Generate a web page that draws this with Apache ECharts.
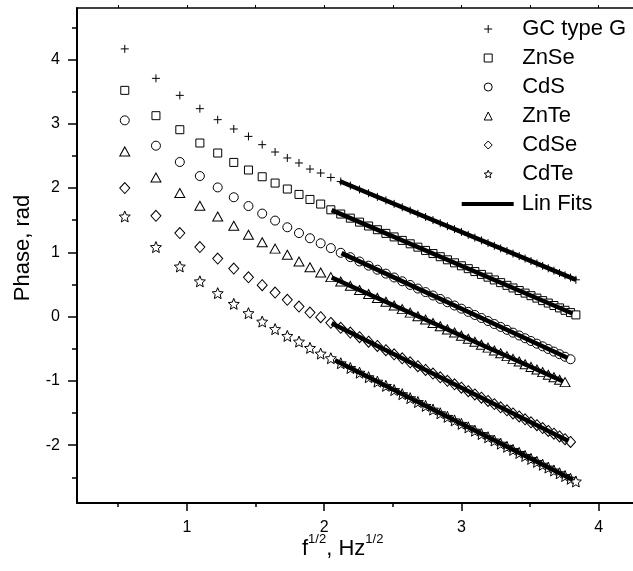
<!DOCTYPE html>
<html>
<head>
<meta charset="utf-8">
<script src="https://cdn.jsdelivr.net/npm/echarts@6/dist/echarts.min.js"></script>
<style>html,body{margin:0;padding:0;background:#fff}#c{width:633px;height:571px}</style>
</head>
<body>
<div id="c"></div>
<script>
// sqrt(f) values, Hz^1/2
const xVals = [0.548,0.775,0.949,1.095,1.225,1.342,1.449,1.549,1.643,1.732,1.817,1.897,1.975,2.049,2.121,2.191,2.258,2.324,2.388,2.450,2.510,2.569,2.627,2.683,2.739,2.793,2.846,2.898,2.950,3.000,3.050,3.098,3.146,3.194,3.240,3.286,3.332,3.376,3.421,3.464,3.507,3.550,3.592,3.633,3.674,3.715,3.755,3.795,3.834];

const yGC = [4.164,3.706,3.441,3.234,3.063,2.918,2.803,2.674,2.560,2.467,2.389,2.295,2.233,2.164,2.100,2.037,1.977,1.919,1.862,1.807,1.753,1.700,1.649,1.598,1.549,1.501,1.453,1.406,1.361,1.316,1.272,1.228,1.185,1.143,1.101,1.060,1.020,0.980,0.941,0.902,0.863,0.826,0.788,0.751,0.714,0.678,0.642,0.607,0.572];
const yZnSe = [3.519,3.125,2.907,2.700,2.544,2.398,2.280,2.175,2.077,1.984,1.900,1.822,1.750,1.661,1.595,1.531,1.469,1.409,1.351,1.294,1.239,1.185,1.132,1.080,1.029,0.980,0.931,0.883,0.836,0.790,0.745,0.700,0.656,0.613,0.570,0.528,0.486,0.445,0.405,0.365,0.325,0.287,0.248,0.210,0.172,0.135,0.098,0.062,0.026];
const yCdS = [3.052,2.658,2.404,2.186,2.009,1.856,1.719,1.602,1.493,1.389,1.299,1.218,1.140,1.065,0.992,0.924,0.857,0.792,0.729,0.668,0.608,0.549,0.492,0.436,0.381,0.328,0.275,0.223,0.172,0.123,0.073,0.025,-0.022,-0.069,-0.116,-0.161,-0.206,-0.250,-0.294,-0.337,-0.380,-0.422,-0.463,-0.504,-0.545,-0.585,-0.625,-0.664];
const yZnTe = [2.569,2.164,1.922,1.724,1.557,1.412,1.272,1.155,1.057,0.961,0.856,0.766,0.685,0.614,0.545,0.478,0.414,0.351,0.290,0.230,0.172,0.116,0.061,0.006,-0.047,-0.099,-0.150,-0.200,-0.249,-0.297,-0.345,-0.391,-0.437,-0.483,-0.527,-0.571,-0.615,-0.658,-0.700,-0.742,-0.783,-0.824,-0.864,-0.904,-0.943,-0.982,-1.020];
const yCdSe = [1.999,1.568,1.299,1.081,0.902,0.746,0.610,0.489,0.374,0.260,0.156,0.062,-0.009,-0.098,-0.175,-0.249,-0.320,-0.390,-0.457,-0.523,-0.587,-0.650,-0.711,-0.771,-0.830,-0.887,-0.944,-0.999,-1.054,-1.107,-1.160,-1.211,-1.262,-1.313,-1.362,-1.411,-1.459,-1.506,-1.553,-1.599,-1.645,-1.690,-1.735,-1.779,-1.822,-1.865,-1.908,-1.950];
const yCdTe = [1.557,1.081,0.779,0.548,0.364,0.198,0.053,-0.078,-0.195,-0.301,-0.389,-0.487,-0.576,-0.648,-0.726,-0.800,-0.873,-0.943,-1.012,-1.078,-1.143,-1.207,-1.269,-1.329,-1.389,-1.447,-1.504,-1.560,-1.615,-1.669,-1.723,-1.775,-1.827,-1.877,-1.928,-1.977,-2.026,-2.074,-2.121,-2.168,-2.214,-2.260,-2.305,-2.349,-2.394,-2.437,-2.480,-2.523,-2.565];

// linear fit segments [start, end]
const fitGC = [[2.115,2.105],[3.836,0.570]];
const fitZnSe = [[2.055,1.656],[3.810,0.048]];
const fitCdS = [[2.127,0.987],[3.775,-0.645]];
const fitZnTe = [[2.055,0.608],[3.739,-1.005]];
const fitCdSe = [[2.055,-0.104],[3.780,-1.935]];
const fitCdTe = [[2.079,-0.680],[3.811,-2.540]];

const names = ['GC type G','ZnSe','CdS','ZnTe','CdSe','CdTe'];
const fitName = 'Lin Fits';
const xMajor = [1,2,3,4];
const xMinor = [0.5,1.5,2.5,3.5];
const yMajor = [-2,-1,0,1,2,3,4];
const yMinor = [-2.5,-1.5,-0.5,0.5,1.5,2.5,3.5,4.5];

const FONT = "'Liberation Sans', Arial, sans-serif";
const STAR = 'path://M10,0L12.65,6.36L19.51,6.91L14.28,11.39L15.88,18.09L10,14.5L4.12,18.09L5.72,11.39L0.49,6.91L7.35,6.36Z';
const PLUS = 'path://M0,5L10,5M5,0L5,10';
const symbols = [PLUS,'rect','circle','triangle','diamond',STAR];
const sizes = [8,8,9,[10,9],[10,11],11];
const yData = [yGC,yZnSe,yCdS,yZnTe,yCdSe,yCdTe];
const fits = [fitGC,fitZnSe,fitCdS,fitZnTe,fitCdSe,fitCdTe];

const series = [];
yData.forEach((ys, i) => {
  series.push({
    type: 'scatter', name: names[i], symbol: symbols[i], symbolSize: sizes[i],
    itemStyle: { color: '#fff', borderColor: '#000', borderWidth: 1, opacity: 1 },
    data: ys.map((y, k) => [xVals[k], y]), z: 2, animation: false
  });
});
fits.forEach(f => {
  series.push({
    type: 'line', name: fitName, symbol: 'none', showSymbol: false,
    lineStyle: { color: '#000', width: 4.5 }, itemStyle: { color: '#000' },
    data: f, z: 3, animation: false
  });
});

const axisLine = { show: true, onZero: false, lineStyle: { color: '#000', width: 2 } };
const chart = echarts.init(document.getElementById('c'), null, { renderer: 'canvas' });
chart.setOption({
  backgroundColor: '#fff',
  animation: false,
  grid: { left: 77, right: -1, top: 8, bottom: 68, containLabel: false },
  xAxis: [
    { type: 'value', min: 0.2, max: 4.25, position: 'bottom', axisLine: axisLine,
      axisTick: { show: true, customValues: xMajor, length: 8, lineStyle: { color: '#000', width: 1.5 } },
      axisLabel: { customValues: xMajor, color: '#000', fontSize: 16, fontFamily: FONT, margin: 17 },
      splitLine: { show: false } },
    { type: 'value', min: 0.2, max: 4.25, position: 'bottom', axisLine: { show: false, onZero: false },
      axisTick: { show: true, customValues: xMinor, length: 4, lineStyle: { color: '#000', width: 1.5 } },
      axisLabel: { show: false }, splitLine: { show: false } },
    { type: 'value', min: 0.2, max: 4.25, position: 'top', axisLine: { show: true, onZero: false, lineStyle: { color: '#000', width: 1.5 } },
      axisTick: { show: true, customValues: xMinor.concat(xMajor), length: 3, lineStyle: { color: '#000', width: 1 } },
      axisLabel: { show: false }, splitLine: { show: false } }
  ],
  yAxis: [
    { type: 'value', min: -2.9, max: 4.8, position: 'left', axisLine: axisLine,
      axisTick: { show: true, customValues: yMajor, length: 9, lineStyle: { color: '#000', width: 1.5 } },
      axisLabel: { customValues: yMajor, color: '#000', fontSize: 16, fontFamily: FONT, margin: 17 },
      splitLine: { show: false } },
    { type: 'value', min: -2.9, max: 4.8, position: 'left', axisLine: { show: false, onZero: false },
      axisTick: { show: true, customValues: yMinor, length: 5, lineStyle: { color: '#000', width: 1.5 } },
      axisLabel: { show: false }, splitLine: { show: false } }
  ],
  legend: [
    { orient: 'vertical', left: 478.7, top: 13, itemWidth: 8, itemHeight: 8, itemGap: 7,
      data: names, selectedMode: false,
      itemStyle: { color: '#fff', borderColor: '#000', borderWidth: 1 },
      textStyle: { fontSize: 22, fontFamily: FONT, color: '#000', lineHeight: 22, padding: [0,0,0,25] } },
    { orient: 'vertical', left: 456.7, top: 188, itemWidth: 52, itemHeight: 4,
      data: [{ name: fitName, icon: 'rect' }], selectedMode: false,
      itemStyle: { color: '#000', borderWidth: 0 },
      textStyle: { fontSize: 22, fontFamily: FONT, color: '#000', lineHeight: 22, padding: [0,0,0,3] } }
  ],
  graphic: [
    { type: 'text', x: 23, y: 248, rotation: Math.PI / 2,
      style: { text: 'Phase, rad', fontSize: 22, fontFamily: FONT, fill: '#000', align: 'center', verticalAlign: 'middle' } },
    { type: 'text', x: 302, y: 533,
      style: { text: '{m|f}{s|1/2}{m|, Hz}{s|1/2}', align: 'left', verticalAlign: 'top', fill: '#000',
        rich: { m: { fontSize: 22, fontFamily: FONT, lineHeight: 32, fill: '#000' },
                s: { fontSize: 13, fontFamily: FONT, lineHeight: 13, verticalAlign: 'top', fill: '#000' } } } }
  ],
  series: series
});
</script>
</body>
</html>
